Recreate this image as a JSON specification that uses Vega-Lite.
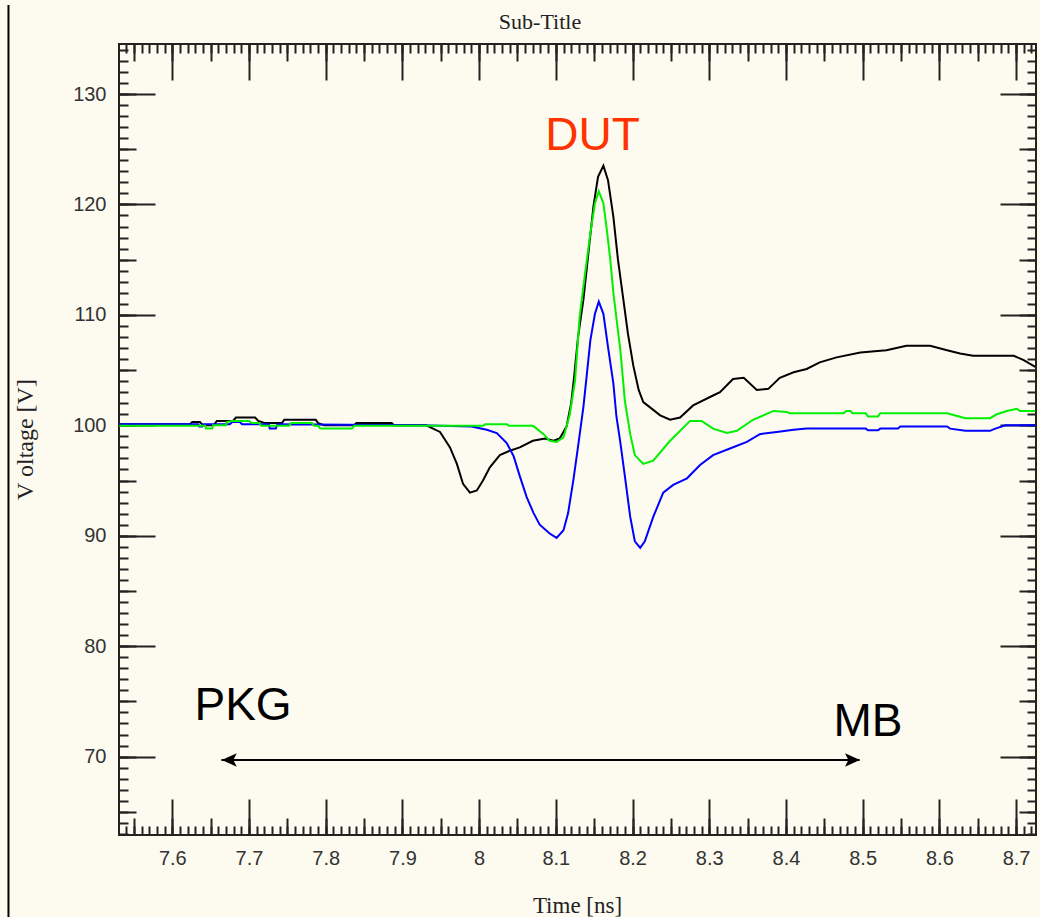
{
  "$schema": "https://vega.github.io/schema/vega-lite/v6.json",
  "width": 917,
  "height": 791,
  "autosize": {"type": "none"},
  "padding": {"left": 119, "top": 44, "right": 4, "bottom": 82},
  "background": "#fdfbf0",
  "config": {
    "view": {"stroke": "#222222", "strokeWidth": 2},
    "axis": {"grid": false, "domain": false, "tickColor": "#222222", "tickWidth": 2}
  },
  "datasets": {
    "curves": [
      {"s":"k","t":7.531,"v":100.1},{"s":"k","t":7.623,"v":100.1},{"s":"k","t":7.626,"v":100.3},{"s":"k","t":7.636,"v":100.3},{"s":"k","t":7.640,"v":100.0},{"s":"k","t":7.654,"v":100.0},{"s":"k","t":7.658,"v":100.4},{"s":"k","t":7.679,"v":100.4},{"s":"k","t":7.683,"v":100.7},{"s":"k","t":7.708,"v":100.7},{"s":"k","t":7.712,"v":100.4},{"s":"k","t":7.721,"v":100.2},{"s":"k","t":7.743,"v":100.2},{"s":"k","t":7.746,"v":100.5},{"s":"k","t":7.787,"v":100.5},{"s":"k","t":7.790,"v":100.2},{"s":"k","t":7.798,"v":100.0},{"s":"k","t":7.837,"v":100.0},{"s":"k","t":7.840,"v":100.2},{"s":"k","t":7.886,"v":100.2},{"s":"k","t":7.889,"v":100.0},{"s":"k","t":7.931,"v":100.0},{"s":"k","t":7.949,"v":99.4},{"s":"k","t":7.962,"v":98.0},{"s":"k","t":7.971,"v":96.5},{"s":"k","t":7.979,"v":94.7},{"s":"k","t":7.988,"v":93.9},{"s":"k","t":7.997,"v":94.1},{"s":"k","t":8.005,"v":95.0},{"s":"k","t":8.014,"v":96.2},{"s":"k","t":8.027,"v":97.3},{"s":"k","t":8.040,"v":97.7},{"s":"k","t":8.053,"v":98.0},{"s":"k","t":8.070,"v":98.6},{"s":"k","t":8.086,"v":98.8},{"s":"k","t":8.097,"v":98.6},{"s":"k","t":8.105,"v":98.8},{"s":"k","t":8.114,"v":99.9},{"s":"k","t":8.120,"v":102.0},{"s":"k","t":8.124,"v":104.5},{"s":"k","t":8.129,"v":108.0},{"s":"k","t":8.136,"v":111.4},{"s":"k","t":8.142,"v":115.3},{"s":"k","t":8.149,"v":119.8},{"s":"k","t":8.155,"v":122.5},{"s":"k","t":8.162,"v":123.5},{"s":"k","t":8.168,"v":122.2},{"s":"k","t":8.175,"v":118.9},{"s":"k","t":8.181,"v":115.0},{"s":"k","t":8.188,"v":111.4},{"s":"k","t":8.194,"v":108.3},{"s":"k","t":8.201,"v":105.4},{"s":"k","t":8.208,"v":103.2},{"s":"k","t":8.214,"v":102.1},{"s":"k","t":8.227,"v":101.4},{"s":"k","t":8.236,"v":100.9},{"s":"k","t":8.249,"v":100.5},{"s":"k","t":8.262,"v":100.7},{"s":"k","t":8.279,"v":101.8},{"s":"k","t":8.305,"v":102.7},{"s":"k","t":8.314,"v":103.0},{"s":"k","t":8.331,"v":104.2},{"s":"k","t":8.345,"v":104.3},{"s":"k","t":8.362,"v":103.2},{"s":"k","t":8.377,"v":103.3},{"s":"k","t":8.392,"v":104.3},{"s":"k","t":8.410,"v":104.8},{"s":"k","t":8.427,"v":105.1},{"s":"k","t":8.444,"v":105.7},{"s":"k","t":8.466,"v":106.15},{"s":"k","t":8.497,"v":106.6},{"s":"k","t":8.531,"v":106.8},{"s":"k","t":8.557,"v":107.2},{"s":"k","t":8.588,"v":107.2},{"s":"k","t":8.610,"v":106.8},{"s":"k","t":8.627,"v":106.5},{"s":"k","t":8.644,"v":106.3},{"s":"k","t":8.697,"v":106.3},{"s":"k","t":8.710,"v":105.9},{"s":"k","t":8.725,"v":105.3},
      {"s":"b","t":7.531,"v":100.1},{"s":"b","t":7.634,"v":100.1},{"s":"b","t":7.635,"v":99.9},{"s":"b","t":7.639,"v":99.9},{"s":"b","t":7.640,"v":100.1},{"s":"b","t":7.675,"v":100.1},{"s":"b","t":7.678,"v":100.3},{"s":"b","t":7.688,"v":100.3},{"s":"b","t":7.691,"v":100.1},{"s":"b","t":7.726,"v":100.1},{"s":"b","t":7.727,"v":99.7},{"s":"b","t":7.735,"v":99.7},{"s":"b","t":7.737,"v":100.1},{"s":"b","t":7.923,"v":100.0},{"s":"b","t":7.990,"v":99.9},{"s":"b","t":8.010,"v":99.6},{"s":"b","t":8.023,"v":99.3},{"s":"b","t":8.036,"v":98.4},{"s":"b","t":8.045,"v":97.2},{"s":"b","t":8.053,"v":95.4},{"s":"b","t":8.062,"v":93.5},{"s":"b","t":8.071,"v":92.05},{"s":"b","t":8.079,"v":91.0},{"s":"b","t":8.092,"v":90.2},{"s":"b","t":8.101,"v":89.8},{"s":"b","t":8.110,"v":90.5},{"s":"b","t":8.116,"v":92.05},{"s":"b","t":8.123,"v":95.1},{"s":"b","t":8.129,"v":98.1},{"s":"b","t":8.136,"v":101.7},{"s":"b","t":8.141,"v":105.0},{"s":"b","t":8.145,"v":107.7},{"s":"b","t":8.151,"v":110.1},{"s":"b","t":8.156,"v":111.2},{"s":"b","t":8.162,"v":110.1},{"s":"b","t":8.168,"v":107.1},{"s":"b","t":8.175,"v":103.8},{"s":"b","t":8.179,"v":100.8},{"s":"b","t":8.184,"v":98.5},{"s":"b","t":8.190,"v":95.4},{"s":"b","t":8.197,"v":91.7},{"s":"b","t":8.203,"v":89.5},{"s":"b","t":8.210,"v":88.9},{"s":"b","t":8.216,"v":89.5},{"s":"b","t":8.227,"v":91.7},{"s":"b","t":8.240,"v":93.9},{"s":"b","t":8.253,"v":94.6},{"s":"b","t":8.271,"v":95.2},{"s":"b","t":8.288,"v":96.4},{"s":"b","t":8.305,"v":97.3},{"s":"b","t":8.327,"v":97.9},{"s":"b","t":8.349,"v":98.5},{"s":"b","t":8.366,"v":99.2},{"s":"b","t":8.388,"v":99.4},{"s":"b","t":8.410,"v":99.6},{"s":"b","t":8.427,"v":99.7},{"s":"b","t":8.504,"v":99.7},{"s":"b","t":8.507,"v":99.55},{"s":"b","t":8.520,"v":99.55},{"s":"b","t":8.523,"v":99.7},{"s":"b","t":8.546,"v":99.7},{"s":"b","t":8.549,"v":99.9},{"s":"b","t":8.610,"v":99.9},{"s":"b","t":8.614,"v":99.7},{"s":"b","t":8.634,"v":99.5},{"s":"b","t":8.666,"v":99.5},{"s":"b","t":8.673,"v":99.7},{"s":"b","t":8.686,"v":100.0},{"s":"b","t":8.725,"v":100.0},
      {"s":"g","t":7.531,"v":99.95},{"s":"g","t":7.643,"v":99.95},{"s":"g","t":7.644,"v":99.7},{"s":"g","t":7.652,"v":99.7},{"s":"g","t":7.653,"v":100.0},{"s":"g","t":7.670,"v":100.0},{"s":"g","t":7.671,"v":100.3},{"s":"g","t":7.678,"v":100.4},{"s":"g","t":7.700,"v":100.4},{"s":"g","t":7.704,"v":100.2},{"s":"g","t":7.713,"v":100.2},{"s":"g","t":7.716,"v":99.95},{"s":"g","t":7.752,"v":99.95},{"s":"g","t":7.755,"v":100.2},{"s":"g","t":7.782,"v":100.2},{"s":"g","t":7.785,"v":99.95},{"s":"g","t":7.790,"v":99.95},{"s":"g","t":7.793,"v":99.7},{"s":"g","t":7.834,"v":99.7},{"s":"g","t":7.837,"v":99.95},{"s":"g","t":8.005,"v":99.95},{"s":"g","t":8.008,"v":100.1},{"s":"g","t":8.036,"v":100.1},{"s":"g","t":8.039,"v":99.95},{"s":"g","t":8.070,"v":99.95},{"s":"g","t":8.075,"v":99.7},{"s":"g","t":8.084,"v":99.2},{"s":"g","t":8.092,"v":98.6},{"s":"g","t":8.101,"v":98.5},{"s":"g","t":8.110,"v":98.9},{"s":"g","t":8.118,"v":100.9},{"s":"g","t":8.125,"v":104.0},{"s":"g","t":8.131,"v":109.8},{"s":"g","t":8.138,"v":113.7},{"s":"g","t":8.145,"v":117.4},{"s":"g","t":8.151,"v":120.1},{"s":"g","t":8.156,"v":121.2},{"s":"g","t":8.162,"v":120.1},{"s":"g","t":8.166,"v":118.0},{"s":"g","t":8.171,"v":115.0},{"s":"g","t":8.175,"v":112.0},{"s":"g","t":8.182,"v":108.0},{"s":"g","t":8.184,"v":106.9},{"s":"g","t":8.188,"v":103.8},{"s":"g","t":8.190,"v":102.2},{"s":"g","t":8.197,"v":99.2},{"s":"g","t":8.203,"v":97.3},{"s":"g","t":8.214,"v":96.5},{"s":"g","t":8.227,"v":96.8},{"s":"g","t":8.249,"v":98.6},{"s":"g","t":8.275,"v":100.4},{"s":"g","t":8.290,"v":100.4},{"s":"g","t":8.305,"v":99.7},{"s":"g","t":8.323,"v":99.3},{"s":"g","t":8.336,"v":99.5},{"s":"g","t":8.357,"v":100.5},{"s":"g","t":8.384,"v":101.3},{"s":"g","t":8.401,"v":101.2},{"s":"g","t":8.405,"v":101.1},{"s":"g","t":8.475,"v":101.1},{"s":"g","t":8.479,"v":101.3},{"s":"g","t":8.484,"v":101.3},{"s":"g","t":8.487,"v":101.1},{"s":"g","t":8.504,"v":101.1},{"s":"g","t":8.507,"v":100.8},{"s":"g","t":8.520,"v":100.8},{"s":"g","t":8.523,"v":101.1},{"s":"g","t":8.610,"v":101.1},{"s":"g","t":8.634,"v":100.65},{"s":"g","t":8.666,"v":100.65},{"s":"g","t":8.675,"v":101.0},{"s":"g","t":8.688,"v":101.3},{"s":"g","t":8.701,"v":101.5},{"s":"g","t":8.705,"v":101.3},{"s":"g","t":8.725,"v":101.3}
    ],
    "notes": [
      {"label": "DUT", "t": 8.1478, "v": 124.93},
      {"label": "PKG", "t": 7.6922, "v": 73.33},
      {"label": "MB", "t": 8.507, "v": 71.88}
    ],
    "arrow": [{"x1": 7.664, "x2": 8.496, "v": 69.7}],
    "heads": [{"dir": "left", "t": 7.6742, "v": 69.7}, {"dir": "right", "t": 8.4868, "v": 69.7}]
  },
  "resolve": {"axis": {"x": "independent", "y": "independent"}, "scale": {"color": "independent"}},
  "layer": [
    {
      "data": {"name": "curves"},
      "mark": {"type": "line", "strokeWidth": 2, "clip": true},
      "encoding": {
        "x": {"field": "t", "type": "quantitative",
          "scale": {"domain": [7.5305, 8.726], "nice": false, "zero": false},
          "axis": {"orient": "bottom", "values": [7.6,7.7,7.8,7.9,8,8.1,8.2,8.3,8.4,8.5,8.6,8.7], "format": "~g", "ticks": false, "labelPadding": 13, "labelFont": "Liberation Sans", "labelFontSize": 20, "labelColor": "#333333", "labelFlush": false, "labelOverlap": false,
            "title": "Time [ns]", "titleFont": "Liberation Serif", "titleFontSize": 23, "titleFontWeight": "normal", "titleColor": "#222222", "titleX": 458, "titleY": 70, "titleBaseline": "middle", "titleAlign": "center"}},
        "y": {"field": "v", "type": "quantitative",
          "scale": {"domain": [62.9, 134.53], "nice": false, "zero": false},
          "axis": {"orient": "left", "values": [70,80,90,100,110,120,130], "ticks": false, "labelPadding": 13, "labelFont": "Liberation Sans", "labelFontSize": 20, "labelColor": "#333333", "labelFlush": false, "labelOverlap": false,
            "title": "V oltage [V]", "titleFont": "Liberation Serif", "titleFontSize": 24, "titleFontWeight": "normal", "titleColor": "#222222", "titleX": -94, "titleY": 395, "titleAngle": -90, "titleBaseline": "middle", "titleAlign": "center"}},
        "color": {"field": "s", "type": "nominal", "scale": {"domain": ["k", "b", "g"], "range": ["#000000", "#0000ff", "#00f000"]}, "legend": null}
      }
    },
    {
      "data": {"name": "notes"},
      "mark": {"type": "point", "opacity": 0},
      "encoding": {
        "x": {"field": "t", "type": "quantitative", "axis": {"orient": "bottom", "values": [7.6,7.7,7.8,7.9,8,8.1,8.2,8.3,8.4,8.5,8.6,8.7], "tickSize": -36, "labels": false, "title": null}},
        "y": {"field": "v", "type": "quantitative", "axis": {"orient": "left", "values": [70,80,90,100,110,120,130], "tickSize": -36, "labels": false, "title": null}}
      }
    },
    {
      "data": {"name": "notes"},
      "mark": {"type": "point", "opacity": 0},
      "encoding": {
        "x": {"field": "t", "type": "quantitative", "axis": {"orient": "bottom", "tickCount": 24, "tickSize": -17, "labels": false, "title": null}},
        "y": {"field": "v", "type": "quantitative", "axis": {"orient": "left", "tickCount": 14, "tickSize": -17, "labels": false, "title": null}}
      }
    },
    {
      "data": {"name": "notes"},
      "mark": {"type": "point", "opacity": 0},
      "encoding": {
        "x": {"field": "t", "type": "quantitative", "axis": {"orient": "bottom", "tickCount": 120, "tickSize": -9, "labels": false, "title": null}},
        "y": {"field": "v", "type": "quantitative", "axis": {"orient": "left", "tickCount": 72, "tickSize": -9, "labels": false, "title": null}}
      }
    },
    {
      "data": {"name": "notes"},
      "mark": {"type": "point", "opacity": 0},
      "encoding": {
        "x": {"field": "t", "type": "quantitative", "axis": {"orient": "top", "values": [7.6,7.7,7.8,7.9,8,8.1,8.2,8.3,8.4,8.5,8.6,8.7], "tickSize": -36, "labels": false, "title": null}},
        "y": {"field": "v", "type": "quantitative", "axis": {"orient": "right", "values": [70,80,90,100,110,120,130], "tickSize": -36, "labels": false, "title": null}}
      }
    },
    {
      "data": {"name": "notes"},
      "mark": {"type": "point", "opacity": 0},
      "encoding": {
        "x": {"field": "t", "type": "quantitative", "axis": {"orient": "top", "tickCount": 24, "tickSize": -17, "labels": false, "title": null}},
        "y": {"field": "v", "type": "quantitative", "axis": {"orient": "right", "tickCount": 14, "tickSize": -17, "labels": false, "title": null}}
      }
    },
    {
      "data": {"name": "notes"},
      "mark": {"type": "point", "opacity": 0},
      "encoding": {
        "x": {"field": "t", "type": "quantitative", "axis": {"orient": "top", "tickCount": 120, "tickSize": -9, "labels": false, "title": null}},
        "y": {"field": "v", "type": "quantitative", "axis": {"orient": "right", "tickCount": 72, "tickSize": -9, "labels": false, "title": null}}
      }
    },
    {
      "data": {"name": "arrow"},
      "mark": {"type": "rule", "color": "#000000", "strokeWidth": 2},
      "encoding": {
        "x": {"field": "x1", "type": "quantitative", "axis": null},
        "x2": {"field": "x2"},
        "y": {"field": "v", "type": "quantitative", "axis": null}
      }
    },
    {
      "data": {"name": "heads"},
      "mark": {"type": "point", "filled": true, "opacity": 1, "size": 225, "color": "#000000", "strokeWidth": 0},
      "encoding": {
        "x": {"field": "t", "type": "quantitative", "axis": null},
        "y": {"field": "v", "type": "quantitative", "axis": null},
        "shape": {"field": "dir", "type": "nominal", "scale": {"domain": ["left", "right"], "range": ["M-1,0L1,-0.9L0.55,0L1,0.9Z", "M1,0L-1,-0.9L-0.55,0L-1,0.9Z"]}, "legend": null}
      }
    },
    {
      "data": {"name": "notes"},
      "mark": {"type": "text", "font": "Liberation Sans", "fontSize": 46, "align": "center", "baseline": "alphabetic"},
      "encoding": {
        "x": {"field": "t", "type": "quantitative", "axis": null},
        "y": {"field": "v", "type": "quantitative", "axis": null},
        "text": {"field": "label"},
        "color": {"field": "label", "type": "nominal", "scale": {"domain": ["DUT", "PKG", "MB"], "range": ["#ff3300", "#000000", "#000000"]}, "legend": null}
      }
    },
    {
      "data": {"values": [{"label": "Sub-Title"}]},
      "mark": {"type": "text", "font": "Liberation Serif", "fontSize": 22, "align": "center", "baseline": "alphabetic", "color": "#222222", "clip": false},
      "encoding": {
        "x": {"datum": 8.0794, "type": "quantitative", "axis": null},
        "y": {"datum": 135.9, "type": "quantitative", "axis": null},
        "text": {"field": "label"}
      }
    },
    {
      "data": {"values": [{}]},
      "mark": {"type": "rule", "color": "#000000", "strokeWidth": 2, "clip": false},
      "encoding": {
        "x": {"datum": 7.3864, "type": "quantitative", "axis": null},
        "y": {"datum": 138.06, "type": "quantitative", "axis": null},
        "y2": {"datum": 55.4}
      }
    }
  ]
}
